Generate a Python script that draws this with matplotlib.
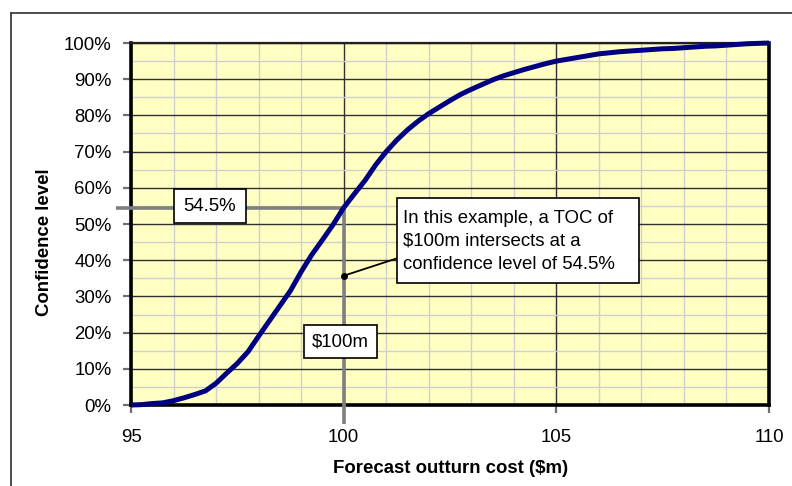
import matplotlib
matplotlib.use("Agg")
import matplotlib.pyplot as plt
from matplotlib.patches import Rectangle
from matplotlib.lines import Line2D
from matplotlib.ticker import MultipleLocator, FuncFormatter

plt.rcParams['font.family'] = ['Liberation Sans', 'DejaVu Sans']

# ---- data ----
cost = [95.00, 95.25, 95.50, 95.75, 96.00, 96.25, 96.50, 96.75, 97.00, 97.25,
        97.50, 97.75, 98.00, 98.25, 98.50, 98.75, 99.00, 99.25, 99.50, 99.75,
        100.00, 100.25, 100.50, 100.75, 101.00, 101.25, 101.50, 101.75, 102.00, 102.25,
        102.50, 102.75, 103.00, 103.25, 103.50, 103.75, 104.00, 104.25, 104.50, 104.75,
        105.00, 105.25, 105.50, 105.75, 106.00, 106.25, 106.50, 106.75, 107.00, 107.25,
        107.50, 107.75, 108.00, 108.25, 108.50, 108.75, 109.00, 109.25, 109.50, 109.75,
        110.00]
confidence = [0.0, 0.1, 0.4, 0.6, 1.2, 2.0, 2.9, 3.9, 6.0, 8.8,
              11.5, 14.7, 19.0, 23.2, 27.4, 31.6, 36.8, 41.5, 45.6, 49.8,
              54.5, 58.3, 62.0, 66.3, 70.0, 73.2, 76.0, 78.4, 80.5, 82.3,
              84.1, 85.8, 87.2, 88.5, 89.8, 90.9, 91.8, 92.7, 93.5, 94.3,
              95.0, 95.5, 96.0, 96.5, 97.0, 97.3, 97.6, 97.8, 98.0, 98.2,
              98.4, 98.5, 98.7, 98.9, 99.1, 99.2, 99.4, 99.6, 99.8, 99.9,
              100.0]
x_ticks = [95, 100, 105, 110]
y_ticks = [0, 10, 20, 30, 40, 50, 60, 70, 80, 90, 100]
toc_value = 100.0
toc_confidence = 54.5
x_label = "Forecast outturn cost ($m)"
y_label = "Confidence level"
box_conf_text = "54.5%"
box_toc_text = "$100m"
note_text = "In this example, a TOC of\n$100m intersects at a\nconfidence level of 54.5%"

# ---- figure ----
fig = plt.figure(figsize=(7.92, 4.86), dpi=100)
fig.patch.set_facecolor('white')

# outer chart-area border (left and top visible)
fig.add_artist(Line2D([11/792, 11/792], [0, 1 - 13/486], transform=fig.transFigure,
                      color='#404040', lw=1.3))
fig.add_artist(Line2D([11/792, 1], [1 - 13/486, 1 - 13/486], transform=fig.transFigure,
                      color='#404040', lw=1.3))

ax = fig.add_axes([131/792, 81/486, 638/792, 362/486])
ax.set_facecolor('#FFFFC4')
ax.set_xlim(95, 110)
ax.set_ylim(0, 100)

ax.xaxis.set_major_locator(MultipleLocator(5))
ax.xaxis.set_minor_locator(MultipleLocator(1))
ax.yaxis.set_major_locator(MultipleLocator(10))
ax.yaxis.set_minor_locator(MultipleLocator(5))
ax.set_xticks(x_ticks)
ax.set_yticks(y_ticks)
ax.yaxis.set_major_formatter(FuncFormatter(lambda v, p: f"{v:.0f}%"))

ax.grid(which='minor', color='#CFCFCF', lw=1.0, zorder=0)
ax.grid(which='major', color='#303030', lw=1.0, zorder=0)
ax.set_axisbelow(True)

for side in ['left', 'bottom', 'right']:
    ax.spines[side].set_linewidth(2.6)
    ax.spines[side].set_color('black')
ax.spines['top'].set_linewidth(1.6)
ax.spines['top'].set_color('#202020')

ax.tick_params(which='major', direction='out', length=6, width=1.6, color='#707070',
               labelsize=13.4, labelcolor='black')
ax.tick_params(axis='y', which='major', pad=8)
ax.tick_params(axis='x', which='major', pad=11)
ax.tick_params(which='minor', length=0)

# gray guide lines (extend outside axes)
ax.plot([94.65, toc_value], [toc_confidence, toc_confidence], color='#808080', lw=2.6,
        clip_on=False, zorder=3, solid_capstyle='butt')
ax.plot([toc_value, toc_value], [toc_confidence, -5.3], color='#808080', lw=2.6,
        clip_on=False, zorder=3, solid_capstyle='butt')

# curve
ax.plot(cost, confidence, color='#000080', lw=3.6, zorder=4, clip_on=False,
        solid_joinstyle='round', solid_capstyle='butt')

# boxes
def box(x0, x1, y0, y1):
    ax.add_patch(Rectangle((x0, y0), x1 - x0, y1 - y0, facecolor='white',
                           edgecolor='black', lw=1.2, zorder=6))

box(96.01, 97.70, 50.3, 59.6)
ax.text((96.01 + 97.70) / 2, (50.3 + 59.6) / 2, box_conf_text, ha='center', va='center',
        fontsize=13.4, zorder=7)

box(99.07, 100.79, 12.9, 22.0)
ax.text((99.07 + 100.79) / 2, (12.9 + 22.0) / 2, box_toc_text, ha='center', va='center',
        fontsize=13.4, zorder=7)

# leader line with dot
ax.plot([toc_value, 101.25], [35.7, 40.5], color='black', lw=1.3, zorder=5)
ax.plot([toc_value], [35.7], marker='o', ms=4, color='black', zorder=5)

box(101.25, 106.95, 33.8, 57.1)
ax.text(101.39, 45.2, note_text, ha='left', va='center', fontsize=13.4,
        linespacing=1.45, zorder=7)

# axis labels
ax.set_xlabel(x_label, fontsize=13.4, fontweight='bold', va='center')
ax.xaxis.set_label_coords(0.5016, -0.176)
ax.set_ylabel(y_label, fontsize=13.4, fontweight='bold', va='center')
ax.yaxis.set_label_coords(-0.135, 0.45)

fig.savefig('out.png', dpi=100)
